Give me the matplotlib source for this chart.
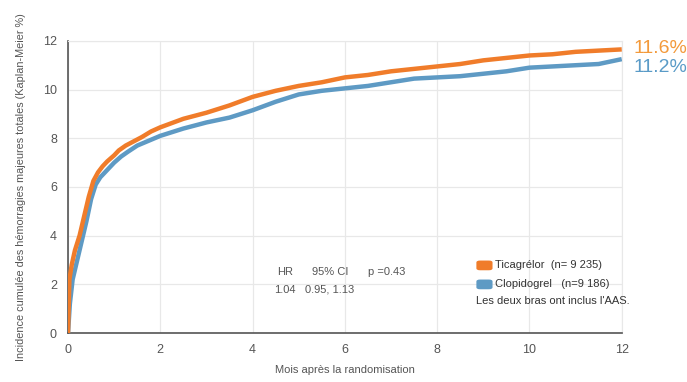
import matplotlib.pyplot as plt
from matplotlib.patches import FancyBboxPatch

plt.rcParams['font.family'] = ['Liberation Sans Narrow', 'Liberation Sans', 'DejaVu Sans']

# Kaplan-Meier curves (months, %)
months_tica = [0, 0.03, 0.08, 0.15, 0.25, 0.35, 0.45, 0.55, 0.65, 0.75, 0.85, 1.0, 1.1, 1.25, 1.4, 1.6,
               1.8, 2.0, 2.5, 3.0, 3.5, 4.0, 4.5, 5.0, 5.5, 6.0, 6.5, 7.0, 7.5, 8.0, 8.5, 9.0, 9.5,
               10.0, 10.5, 11.0, 11.5, 12.0]
inc_tica = [0, 2.2, 2.8, 3.4, 4.0, 4.8, 5.6, 6.25, 6.6, 6.85, 7.05, 7.3, 7.5, 7.7, 7.85, 8.05,
            8.28, 8.45, 8.8, 9.05, 9.35, 9.7, 9.95, 10.15, 10.3, 10.5, 10.6, 10.75, 10.85, 10.95, 11.05,
            11.2, 11.3, 11.4, 11.45, 11.55, 11.6, 11.65]
months_clop = [0, 0.04, 0.1, 0.2, 0.3, 0.4, 0.5, 0.6, 0.7, 0.8, 0.9, 1.0, 1.15, 1.3, 1.5, 1.75,
               2.0, 2.5, 3.0, 3.5, 4.0, 4.5, 5.0, 5.5, 6.0, 6.5, 7.0, 7.5, 8.0, 8.5, 9.0, 9.5,
               10.0, 10.5, 11.0, 11.5, 12.0]
inc_clop = [0, 1.2, 2.2, 3.0, 3.8, 4.6, 5.5, 6.1, 6.4, 6.6, 6.8, 7.0, 7.25, 7.45, 7.7, 7.9,
            8.1, 8.4, 8.65, 8.85, 9.15, 9.5, 9.8, 9.95, 10.05, 10.15, 10.3, 10.45, 10.5, 10.55, 10.65, 10.75,
            10.9, 10.95, 11.0, 11.05, 11.25]

final_tica = '11.6%'
final_clop = '11.2%'
legend_labels = ['Ticagrélor  (n= 9 235)', 'Clopidogrel   (n=9 186)']

orange = '#F07C2A'
blue = '#5E9AC4'
gray_txt = '#555555'

fig = plt.figure(figsize=(6.87, 3.82), dpi=100)
ax = fig.add_axes([0.099, 0.128, 0.806, 0.765])

ax.plot(months_clop, inc_clop, color=blue, lw=3.2, solid_capstyle='butt', zorder=3)
ax.plot(months_tica, inc_tica, color=orange, lw=3.2, solid_capstyle='butt', zorder=4)

ax.set_xlim(0, 12)
ax.set_ylim(0, 12)
ax.set_xticks(range(0, 13, 2))
ax.set_yticks(range(0, 13, 2))
ax.grid(color='#e8e8e8', lw=0.9)
ax.set_axisbelow(True)
for s in ['top', 'right']:
    ax.spines[s].set_color('#e8e8e8')
for s in ['left', 'bottom']:
    ax.spines[s].set_color('#555555')
    ax.spines[s].set_linewidth(1.2)
ax.tick_params(length=0, labelsize=9, colors=gray_txt, pad=8)

ax.set_xlabel('Mois après la randomisation', fontsize=8, color=gray_txt, labelpad=6)
ax.set_ylabel('Incidence cumulée des hémorragies majeures totales (Kaplan-Meier %)',
              fontsize=7.8, color=gray_txt, labelpad=12)

# end values
ax.text(12.25, inc_tica[-1] + 0.05, final_tica, color='#F39A3B', fontsize=14,
        ha='left', va='center', clip_on=False)
ax.text(12.25, inc_clop[-1] - 0.35, final_clop, color='#5A9BC7', fontsize=14,
        ha='left', va='center', clip_on=False)

# HR box
stats = [('HR', '1.04', 4.7), ('95% CI', '0.95, 1.13', 5.68), ('p =0.43', '', 6.9)]
for head, val, xs in stats:
    ax.text(xs, 2.52, head, fontsize=8, color=gray_txt, ha='center', va='center')
    if val:
        ax.text(xs, 1.78, val, fontsize=8, color=gray_txt, ha='center', va='center')

# legend
leg_y = [2.78, 2.0]
for lab, col, y in zip(legend_labels, [orange, blue], leg_y):
    ax.add_patch(FancyBboxPatch((8.85, y - 0.2), 0.35, 0.4, boxstyle='round,pad=0,rounding_size=0.08',
                                fc=col, ec='none', clip_on=False, zorder=5))
    ax.text(9.25, y, lab, fontsize=8, color='#333333', ha='left', va='center')
ax.text(8.85, 1.3, "Les deux bras ont inclus l'AAS.", fontsize=8, color='#333333',
        ha='left', va='center')

fig.savefig('out.png', dpi=100)
